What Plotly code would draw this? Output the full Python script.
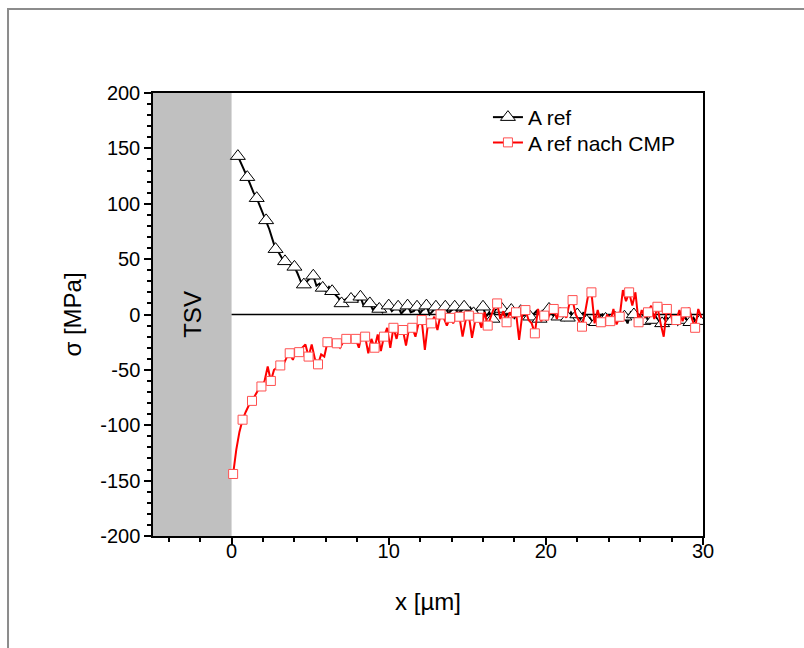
import plotly.graph_objects as go

# ---- data: A ref (black) ----
x_ref = [0.4, 0.6, 0.8, 1.0, 1.2, 1.4, 1.6, 1.8, 2.0, 2.2,
         2.4, 2.6, 2.8, 3.0, 3.2, 3.4, 3.6, 3.8, 4.0, 4.2,
         4.4, 4.6, 4.8, 5.0, 5.2, 5.4, 5.6, 5.8, 6.0, 6.2,
         6.4, 6.6, 6.8, 7.0, 7.2, 7.4, 7.6, 7.8, 8.0, 8.2,
         8.4, 8.6, 8.8, 9.0, 9.2, 9.4, 9.6, 9.8, 10.0, 10.2,
         10.4, 10.6, 10.8, 11.0, 11.2, 11.4, 11.6, 11.8, 12.0, 12.2,
         12.4, 12.6, 12.8, 13.0, 13.2, 13.4, 13.6, 13.8, 14.0, 14.2,
         14.4, 14.6, 14.8, 15.0, 15.2, 15.4, 15.6, 15.8, 16.0, 16.2,
         16.4, 16.6, 16.8, 17.0, 17.2, 17.4, 17.6, 17.8, 18.0, 18.2,
         18.4, 18.6, 18.8, 19.0, 19.2, 19.4, 19.6, 19.8, 20.0, 20.2,
         20.4, 20.6, 20.8, 21.0, 21.2, 21.4, 21.6, 21.8, 22.0, 22.2,
         22.4, 22.6, 22.8, 23.0, 23.2, 23.4, 23.6, 23.8, 24.0, 24.2,
         24.4, 24.6, 24.8, 25.0, 25.2, 25.4, 25.6, 25.8, 26.0, 26.2,
         26.4, 26.6, 26.8, 27.0, 27.2, 27.4, 27.6, 27.8, 28.0, 28.2,
         28.4, 28.6, 28.8, 29.0, 29.2, 29.4, 29.6, 29.8, 30.0]
y_ref = [143, 137, 130, 124, 117, 110, 105, 98, 92, 85,
         77, 68, 59, 56, 51, 48, 47, 44, 43, 37,
         30, 27, 30, 33, 35, 26, 28, 24, 21, 25,
         21, 18, 15, 10, 13, 15, 14, 16, 12, 16,
         8, 12, 10, 4, 8, 5, 2, 9, 8, 3,
         6, 7, 1, 4, 8, 2, 3, 7, 1, 5,
         8, 0, 3, 7, 2, 0, 7, 1, 4, 7,
         1, 3, 7, 2, 6, 1, 3, 7, 7, -2,
         2, -4, 4, 2, 5, -2, 1, 4, -3, 0,
         3, -1, 1, -2, 0, 3, -4, 4, -3, 5,
         0, -4, -2, 1, -5, -3, 2, -2, 0, -4,
         2, -6, -3, -8, -7, -2, 0, -4, -1, -5,
         -3, 1, -4, -2, -8, 2, 0, -3, -10, -6,
         -1, -8, -5, -2, -7, -8, -2, -4, -6, -3,
         -9, -5, 0, -6, -7, -3, -8, -6, -7]

# ---- data: A ref nach CMP (red) ----
x_cmp = [0.1, 0.3, 0.5, 0.7, 0.9, 1.1, 1.3, 1.5, 1.7, 1.9,
         2.1, 2.3, 2.5, 2.7, 2.9, 3.1, 3.3, 3.5, 3.7, 3.9,
         4.1, 4.3, 4.5, 4.7, 4.9, 5.1, 5.3, 5.5, 5.7, 5.9,
         6.1, 6.3, 6.5, 6.7, 6.9, 7.1, 7.3, 7.5, 7.7, 7.9,
         8.1, 8.3, 8.5, 8.7, 8.9, 9.1, 9.3, 9.5, 9.7, 9.9,
         10.1, 10.3, 10.5, 10.7, 10.9, 11.1, 11.3, 11.5, 11.7, 11.9,
         12.1, 12.3, 12.5, 12.7, 12.9, 13.1, 13.3, 13.5, 13.7, 13.9,
         14.1, 14.3, 14.5, 14.7, 14.9, 15.1, 15.3, 15.5, 15.7, 15.9,
         16.1, 16.3, 16.5, 16.7, 16.9, 17.1, 17.3, 17.5, 17.7, 17.9,
         18.1, 18.3, 18.5, 18.7, 18.9, 19.1, 19.3, 19.5, 19.7, 19.9,
         20.1, 20.3, 20.5, 20.7, 20.9, 21.1, 21.3, 21.5, 21.7, 21.9,
         22.1, 22.3, 22.5, 22.7, 22.9, 23.1, 23.3, 23.5, 23.7, 23.9,
         24.1, 24.3, 24.5, 24.7, 24.9, 25.1, 25.3, 25.5, 25.7, 25.9,
         26.1, 26.3, 26.5, 26.7, 26.9, 27.1, 27.3, 27.5, 27.7, 27.9,
         28.1, 28.3, 28.5, 28.7, 28.9, 29.1, 29.3, 29.5, 29.7, 29.9]
y_cmp = [-144, -122, -106, -95, -88, -82, -78, -73, -68, -65,
         -60, -47, -60, -50, -48, -46, -45, -39, -35, -41,
         -33, -34, -30, -27, -38, -27, -40, -45, -36, -38,
         -25, -25, -26, -26, -30, -25, -22, -20, -24, -22,
         -30, -17, -20, -35, -22, -30, -18, -33, -20, -12,
         -30, -12, -22, -10, -14, -28, -12, -12, -20, -8,
         -5, -32, -8, -8, -2, -14, 0, -3, -10, -3,
         -8, -1, -2, -20, -5, -1, -21, -6, -3, -12,
         2, -10, -2, 6, 10, -4, 3, -7, 2, -3,
         2, -23, 0, 4, -5, -8, -17, 5, -6, -1,
         -5, 3, 5, -4, 6, 2, -3, 10, 13, 0,
         -6, -11, 2, 18, 20, -8, 4, -7, -10, 0,
         -6, 5, -9, -2, 22, 12, 20, 8, 20, -7,
         4, -2, 2, 8, -4, 7, -8, -20, 5, 2,
         -8, -5, 4, -6, 2, 6, -4, -12, 5, -3]

names = ["A ref", "A ref nach CMP"]

# tick positions / labels (hyphen minus as in the original)
x_ticks = [0, 10, 20, 30]
x_ticklabels = ["0", "10", "20", "30"]
y_ticks = [-200, -150, -100, -50, 0, 50, 100, 150, 200]
y_ticklabels = ["-200", "-150", "-100", "-50", "0", "50", "100", "150", "200"]

MARK_EVERY = 3

FONT = "Liberation Sans, Arial, sans-serif"
BLACK_MARK = dict(symbol="triangle-up", size=13, color="white",
                  line=dict(color="black", width=1))
RED_MARK = dict(symbol="square", size=9, color="white",
                line=dict(color="rgb(255,80,80)", width=1))

fig = go.Figure()

# black series
fig.add_trace(go.Scatter(x=x_ref, y=y_ref, mode="lines",
                         line=dict(color="black", width=2),
                         showlegend=False, hoverinfo="skip"))
fig.add_trace(go.Scatter(x=x_ref[::MARK_EVERY], y=y_ref[::MARK_EVERY],
                         mode="markers", marker=BLACK_MARK,
                         showlegend=False))
# red series
fig.add_trace(go.Scatter(x=x_cmp, y=y_cmp, mode="lines",
                         line=dict(color="red", width=2),
                         showlegend=False, hoverinfo="skip"))
fig.add_trace(go.Scatter(x=x_cmp[::MARK_EVERY], y=y_cmp[::MARK_EVERY],
                         mode="markers", marker=RED_MARK,
                         showlegend=False))
# legend entries
fig.add_trace(go.Scatter(x=[None], y=[None], mode="lines+markers", name=names[0],
                         line=dict(color="black", width=2), marker=BLACK_MARK,
                         legend="legend"))
fig.add_trace(go.Scatter(x=[None], y=[None], mode="lines+markers", name=names[1],
                         line=dict(color="red", width=2), marker=RED_MARK,
                         legend="legend2"))

shapes = [
    # TSV region
    dict(type="rect", xref="x", yref="paper", x0=-5, x1=0, y0=0, y1=1,
         fillcolor="#c0c0c0", line=dict(width=0), layer="below"),
    # zero reference line
    dict(type="line", xref="x", yref="y", x0=0, x1=30, y0=0, y1=0,
         line=dict(color="black", width=1.5), layer="below"),
    # outer gray frame
    dict(type="rect", xref="paper", yref="paper", x0=-0.2636, x1=1.5,
         y0=-0.6, y1=1.1897, line=dict(color="#8c8c8c", width=2),
         fillcolor="rgba(0,0,0,0)", layer="below"),
]

axis_common = dict(
    showline=True, linecolor="black", linewidth=1.5, mirror=True,
    ticks="outside", ticklen=7, tickwidth=1.5, tickcolor="black",
    showgrid=False, zeroline=False, tickmode="array",
    tickfont=dict(family=FONT, size=20, color="black"),
)

legend_common = dict(xanchor="left", yanchor="top", bgcolor="rgba(0,0,0,0)",
                     font=dict(family=FONT, size=21, color="black"))

fig.update_layout(
    width=804, height=648,
    margin=dict(l=153, r=101, t=93, b=112),
    paper_bgcolor="white", plot_bgcolor="white",
    font=dict(family=FONT, color="black"),
    shapes=shapes,
    annotations=[dict(x=-2.5, y=0, xref="x", yref="y", text="TSV",
                      textangle=-90, showarrow=False,
                      font=dict(family=FONT, size=24, color="black"))],
    xaxis=dict(range=[-5, 30], tickvals=x_ticks, ticktext=x_ticklabels,
               ticklabelstandoff=-11,
               minor=dict(dtick=2, tick0=0, ticks="outside", ticklen=4,
                          tickwidth=1.5, tickcolor="black", showgrid=False),
               title=dict(text="x [µm]", font=dict(family=FONT, size=24),
                          standoff=32),
               **axis_common),
    yaxis=dict(range=[-200, 200], tickvals=y_ticks, ticktext=y_ticklabels,
               minor=dict(dtick=10, tick0=0, ticks="outside", ticklen=4,
                          tickwidth=1.5, tickcolor="black", showgrid=False),
               title=dict(text="σ [MPa]", font=dict(family=FONT, size=24),
                          standoff=12),
               **axis_common),
    legend=dict(x=0.609, y=0.991, **legend_common),
    legend2=dict(x=0.609, y=0.934, **legend_common),
    showlegend=True,
)

fig.write_html("out.html")
